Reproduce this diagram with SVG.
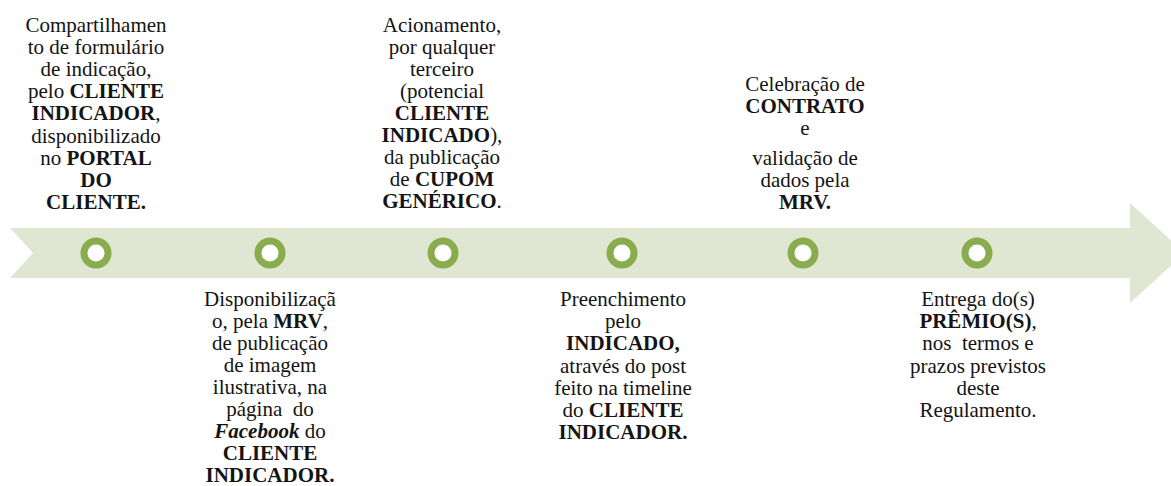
<svg xmlns="http://www.w3.org/2000/svg" width="1171" height="486" viewBox="0 0 1171 486">
<style>
  text { font-size: 21px; fill: #141414; }
  .b { font-weight: bold; }
  .bi { font-weight: bold; font-style: italic; }
  .ring { fill: #ffffff; stroke: #8aac4e; stroke-width: 7; }
</style>
<rect width="1171" height="486" fill="#ffffff"/>
<g id="connectors">
  <polygon points="10,228 1130,228 1130,203 1185,253 1130,303 1130,278 10,278 33,253" fill="#dfe7d3"/>
</g>
<g id="node1" font-family="Liberation Serif" text-anchor="middle">
  <circle class="ring" cx="96" cy="253" r="12"/>
  <text x="96" y="32" font-family="Liberation Serif">Compartilhamen</text>
  <text x="96" y="54" font-family="Liberation Serif">to de formulário</text>
  <text x="96" y="76" font-family="Liberation Serif">de indicação,</text>
  <text x="96" y="98" font-family="Liberation Serif">pelo <tspan class="b">CLIENTE</tspan></text>
  <text x="96" y="120" font-family="Liberation Serif"><tspan class="b">INDICADOR</tspan>,</text>
  <text x="96" y="143" font-family="Liberation Serif">disponibilizado</text>
  <text x="96" y="165" font-family="Liberation Serif">no <tspan class="b">PORTAL</tspan></text>
  <text x="96" y="187" font-family="Liberation Serif" class="b">DO</text>
  <text x="96" y="209" font-family="Liberation Serif" class="b">CLIENTE.</text>
</g>
<g id="node2" font-family="Liberation Serif" text-anchor="middle">
  <circle class="ring" cx="270" cy="253" r="12"/>
  <text x="270" y="306" font-family="Liberation Serif">Disponibilizaçã</text>
  <text x="270" y="328" font-family="Liberation Serif">o, pela <tspan class="b">MRV</tspan>,</text>
  <text x="270" y="350" font-family="Liberation Serif">de publicação</text>
  <text x="270" y="372" font-family="Liberation Serif">de imagem</text>
  <text x="270" y="394" font-family="Liberation Serif">ilustrativa, na</text>
  <text x="270" y="416" font-family="Liberation Serif">página&#160; do</text>
  <text x="270" y="438" font-family="Liberation Serif"><tspan class="bi">Facebook</tspan> do</text>
  <text x="270" y="460" font-family="Liberation Serif" class="b">CLIENTE</text>
  <text x="270" y="482" font-family="Liberation Serif" class="b">INDICADOR.</text>
</g>
<g id="node3" font-family="Liberation Serif" text-anchor="middle">
  <circle class="ring" cx="443" cy="253" r="12"/>
  <text x="442" y="32" font-family="Liberation Serif">Acionamento,</text>
  <text x="442" y="54" font-family="Liberation Serif">por qualquer</text>
  <text x="442" y="76" font-family="Liberation Serif">terceiro</text>
  <text x="442" y="98" font-family="Liberation Serif">(potencial</text>
  <text x="442" y="120" font-family="Liberation Serif" class="b">CLIENTE</text>
  <text x="442" y="142" font-family="Liberation Serif"><tspan class="b">INDICADO</tspan>),</text>
  <text x="442" y="164" font-family="Liberation Serif">da publicação</text>
  <text x="442" y="186" font-family="Liberation Serif">de <tspan class="b">CUPOM</tspan></text>
  <text x="442" y="208" font-family="Liberation Serif"><tspan class="b">GENÉRICO</tspan>.</text>
</g>
<g id="node4" font-family="Liberation Serif" text-anchor="middle">
  <circle class="ring" cx="622" cy="253" r="12"/>
  <text x="623" y="306" font-family="Liberation Serif">Preenchimento</text>
  <text x="623" y="328" font-family="Liberation Serif">pelo</text>
  <text x="623" y="350" font-family="Liberation Serif" class="b">INDICADO,</text>
  <text x="623" y="373" font-family="Liberation Serif">através do post</text>
  <text x="623" y="395" font-family="Liberation Serif">feito na timeline</text>
  <text x="623" y="417" font-family="Liberation Serif">do <tspan class="b">CLIENTE</tspan></text>
  <text x="623" y="439" font-family="Liberation Serif" class="b">INDICADOR.</text>
</g>
<g id="node5" font-family="Liberation Serif" text-anchor="middle">
  <circle class="ring" cx="803" cy="253" r="12"/>
  <text x="805" y="91" font-family="Liberation Serif">Celebração de</text>
  <text x="805" y="113" font-family="Liberation Serif" class="b">CONTRATO</text>
  <text x="805" y="135" font-family="Liberation Serif">e</text>
  <text x="805" y="165" font-family="Liberation Serif">validação de</text>
  <text x="805" y="187" font-family="Liberation Serif">dados pela</text>
  <text x="805" y="209" font-family="Liberation Serif" class="b">MRV.</text>
</g>
<g id="node6" font-family="Liberation Serif" text-anchor="middle">
  <circle class="ring" cx="977" cy="253" r="12"/>
  <text x="978" y="306" font-family="Liberation Serif">Entrega do(s)</text>
  <text x="978" y="328" font-family="Liberation Serif"><tspan class="b">PRÊMIO(S)</tspan>,</text>
  <text x="978" y="350" font-family="Liberation Serif">nos&#160; termos e</text>
  <text x="978" y="373" font-family="Liberation Serif">prazos previstos</text>
  <text x="978" y="395" font-family="Liberation Serif">deste</text>
  <text x="978" y="417" font-family="Liberation Serif">Regulamento.</text>
</g>
</svg>
